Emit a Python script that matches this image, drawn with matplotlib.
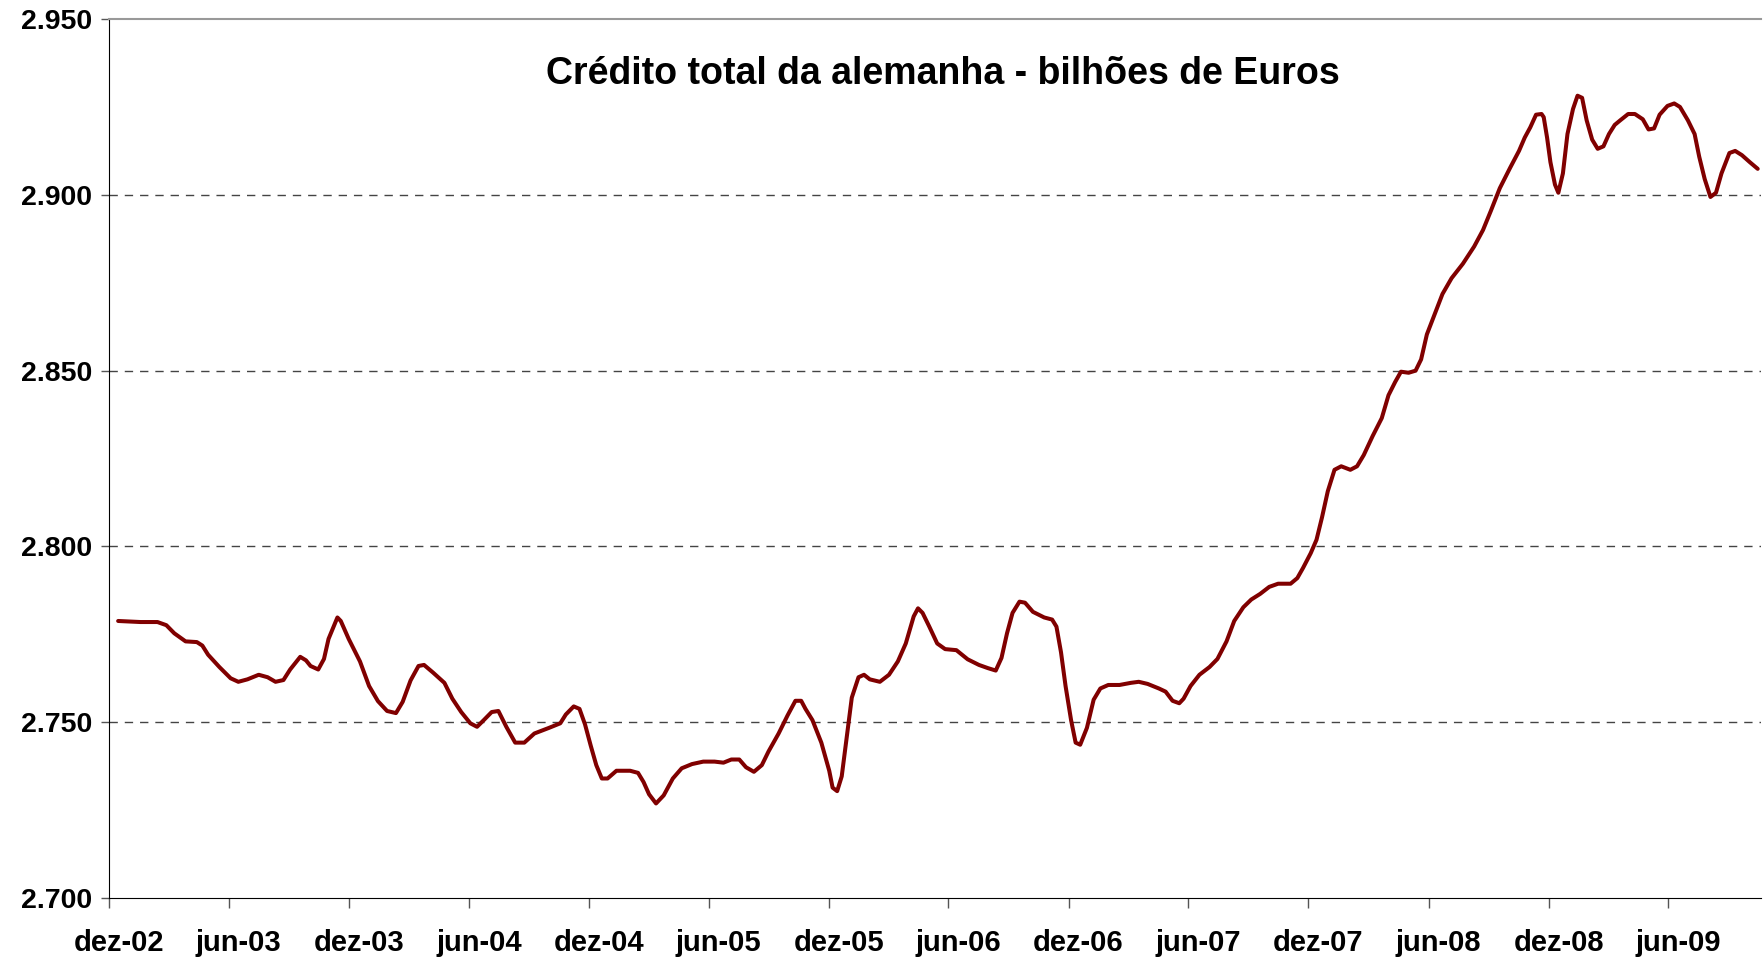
import numpy as np
import pandas as pd
import matplotlib
matplotlib.use("Agg")
import matplotlib.pyplot as plt
from matplotlib.ticker import FuncFormatter

# tempo em anos contados a partir de 1 de dezembro de 2002
anos = [0.038, 0.131, 0.202, 0.239, 0.272, 0.319, 0.366, 0.389, 0.413, 0.460,
        0.507, 0.539, 0.577, 0.624, 0.661, 0.694, 0.727, 0.755, 0.797, 0.821,
        0.840, 0.872, 0.896, 0.915, 0.952, 0.966, 0.999, 1.046, 1.084, 1.121,
        1.159, 1.196, 1.224, 1.257, 1.290, 1.313, 1.351, 1.398, 1.431, 1.468,
        1.506, 1.534, 1.562, 1.595, 1.623, 1.656, 1.693, 1.731, 1.773, 1.834,
        1.881, 1.904, 1.937, 1.961, 1.984, 2.008, 2.031, 2.054, 2.078, 2.115,
        2.172, 2.205, 2.228, 2.251, 2.280, 2.312, 2.350, 2.387, 2.430, 2.477,
        2.524, 2.561, 2.594, 2.627, 2.655, 2.688, 2.721, 2.749, 2.791, 2.828,
        2.861, 2.885, 2.903, 2.932, 2.969, 3.002, 3.016, 3.035, 3.054, 3.072,
        3.096, 3.124, 3.147, 3.171, 3.213, 3.251, 3.288, 3.321, 3.354, 3.372,
        3.391, 3.419, 3.452, 3.485, 3.532, 3.579, 3.626, 3.663, 3.696, 3.720,
        3.743, 3.766, 3.795, 3.818, 3.851, 3.898, 3.931, 3.949, 3.968, 3.987,
        4.010, 4.029, 4.048, 4.076, 4.104, 4.132, 4.165, 4.212, 4.259, 4.292,
        4.329, 4.376, 4.404, 4.433, 4.461, 4.479, 4.508, 4.545, 4.587, 4.620,
        4.658, 4.690, 4.728, 4.761, 4.798, 4.836, 4.873, 4.925, 4.953, 4.977,
        5.009, 5.033, 5.056, 5.080, 5.108, 5.136, 5.174, 5.202, 5.230, 5.267,
        5.305, 5.333, 5.361, 5.385, 5.417, 5.446, 5.469, 5.493, 5.525, 5.558,
        5.596, 5.643, 5.690, 5.727, 5.760, 5.797, 5.840, 5.877, 5.901, 5.924,
        5.948, 5.971, 5.980, 5.994, 6.008, 6.027, 6.041, 6.060, 6.079, 6.102,
        6.121, 6.140, 6.159, 6.182, 6.205, 6.229, 6.252, 6.276, 6.299, 6.332,
        6.360, 6.393, 6.417, 6.440, 6.463, 6.496, 6.524, 6.548, 6.581, 6.609,
        6.628, 6.651, 6.675, 6.698, 6.721, 6.754, 6.778, 6.806, 6.839, 6.872]

# credito total (bilhoes de euros)
credito = [2778.8, 2778.5, 2778.5, 2777.6, 2775.3, 2773.0, 2772.8, 2771.8, 2769.2, 2765.7,
           2762.5, 2761.5, 2762.2, 2763.5, 2762.8, 2761.5, 2762.0, 2765.0, 2768.6, 2767.6,
           2766.0, 2765.0, 2768.0, 2773.7, 2779.8, 2778.8, 2773.7, 2767.3, 2760.3, 2756.0,
           2753.2, 2752.6, 2755.8, 2761.9, 2766.0, 2766.3, 2764.1, 2761.2, 2756.7, 2752.9,
           2749.7, 2748.7, 2750.6, 2752.9, 2753.2, 2748.7, 2744.2, 2744.2, 2746.8, 2748.4,
           2749.7, 2752.2, 2754.5, 2753.8, 2749.4, 2743.3, 2737.8, 2734.0, 2734.0, 2736.2,
           2736.2, 2735.6, 2733.0, 2729.5, 2726.9, 2729.2, 2734.0, 2736.9, 2738.1, 2738.8,
           2738.8, 2738.5, 2739.4, 2739.4, 2737.2, 2735.9, 2737.8, 2741.7, 2746.8, 2751.9,
           2756.1, 2756.1, 2753.8, 2750.6, 2744.2, 2736.2, 2731.4, 2730.4, 2734.6, 2744.2,
           2757.0, 2762.8, 2763.5, 2762.2, 2761.5, 2763.5, 2767.3, 2772.4, 2780.1, 2782.4,
           2781.1, 2777.2, 2772.4, 2770.8, 2770.5, 2767.9, 2766.3, 2765.4, 2764.7, 2768.3,
           2775.3, 2781.1, 2784.3, 2784.0, 2781.4, 2779.8, 2779.2, 2777.2, 2769.9, 2760.3,
           2750.6, 2744.2, 2743.6, 2748.4, 2756.4, 2759.6, 2760.6, 2760.6, 2761.2, 2761.5,
           2760.9, 2759.6, 2758.7, 2756.1, 2755.4, 2756.7, 2760.3, 2763.5, 2765.7, 2768.0,
           2773.0, 2778.8, 2782.7, 2784.9, 2786.5, 2788.5, 2789.4, 2789.4, 2791.0, 2793.9,
           2798.1, 2801.9, 2808.3, 2815.7, 2821.8, 2822.8, 2821.8, 2822.8, 2826.0, 2831.4,
           2836.5, 2843.0, 2846.8, 2849.7, 2849.4, 2850.0, 2853.2, 2860.3, 2866.0, 2871.8,
           2876.3, 2880.4, 2885.3, 2890.0, 2895.5, 2901.9, 2907.7, 2912.5, 2916.3, 2919.2,
           2922.8, 2923.0, 2922.1, 2916.3, 2909.3, 2902.9, 2900.6, 2906.1, 2917.3, 2924.4,
           2928.2, 2927.6, 2921.2, 2915.7, 2913.1, 2913.8, 2917.3, 2919.9, 2921.2, 2923.0,
           2923.0, 2921.5, 2918.6, 2918.9, 2922.8, 2925.3, 2926.0, 2925.0, 2921.2, 2917.3,
           2910.9, 2904.5, 2899.4, 2900.6, 2906.1, 2911.9, 2912.5, 2911.3, 2909.3, 2907.4]

rotulos_x = ["dez-02", "jun-03", "dez-03", "jun-04", "dez-04", "jun-05", "dez-05",
             "jun-06", "dez-06", "jun-07", "dez-07", "jun-08", "dez-08", "jun-09"]

inicio = pd.Timestamp("2002-12-01")
datas = inicio + pd.to_timedelta(np.array(anos) * 365.25, unit="D")

plt.rcParams["font.family"] = ["Liberation Sans", "DejaVu Sans"]
plt.rcParams["font.weight"] = "bold"

fig = plt.figure(figsize=(17.64, 9.58), dpi=100)
ax = fig.add_axes([0.0618, 0.0626, 0.9365, 0.9175])

ax.plot(datas, credito, color="#800000", lw=2.9, solid_joinstyle="round", solid_capstyle="round")

ax.set_ylim(2700, 2950)
ax.set_yticks(np.arange(2700, 2951, 50))
ax.yaxis.set_major_formatter(FuncFormatter(lambda v, p: f"{v:,.0f}".replace(",", ".")))
for v in [2750, 2800, 2850, 2900]:
    ax.axhline(v, color="#444444", lw=1, dashes=(6, 5), zorder=0)

ax.set_xlim(inicio, pd.Timestamp("2009-10-20"))
ticks = pd.date_range("2002-12-01", periods=len(rotulos_x), freq="6MS")
ax.set_xticks(ticks)
ax.set_xticklabels([])
ax.set_xticks(ticks + pd.Timedelta(days=15), minor=True)
ax.set_xticklabels(rotulos_x, minor=True)

ax.tick_params(axis="x", which="major", direction="out", length=7, width=1, color="#555555")
ax.tick_params(axis="x", which="minor", length=0, pad=22, labelsize=21)
ax.tick_params(axis="y", direction="out", length=6, width=1, color="#555555", pad=6, labelsize=20.5)

ax.spines["right"].set_visible(False)
ax.spines["top"].set_color("#999999")
ax.spines["top"].set_linewidth(1.5)
ax.spines["left"].set_color("black")
ax.spines["bottom"].set_color("black")

ax.text(0.505, 0.938, "Crédito total da alemanha - bilhões de Euros", transform=ax.transAxes,
        ha="center", va="center", fontsize=27, fontweight="bold")

fig.savefig("out.png", dpi=100)
